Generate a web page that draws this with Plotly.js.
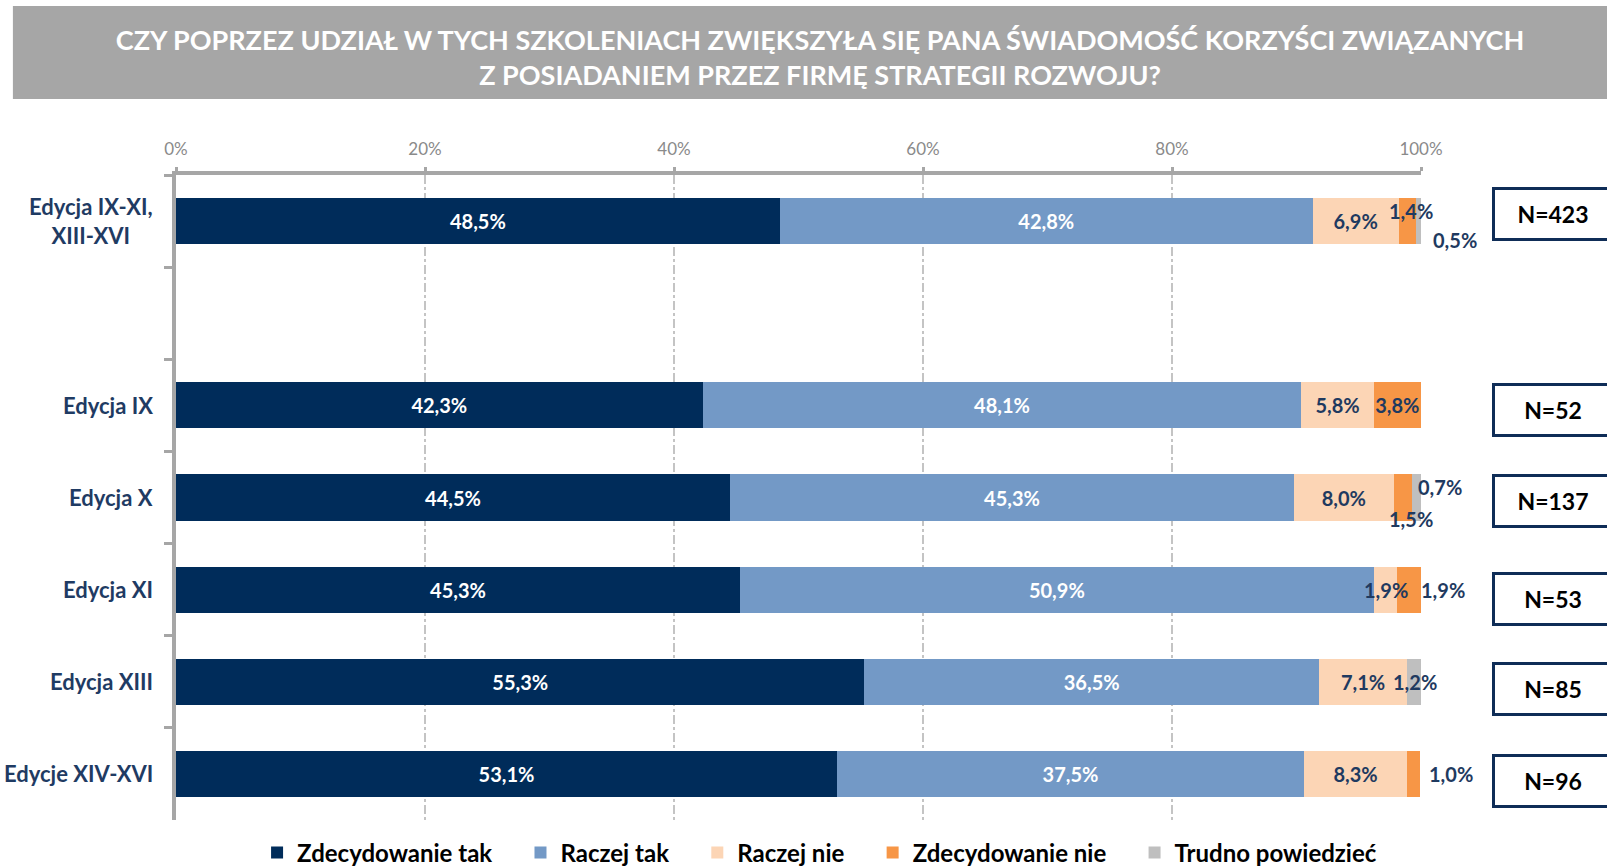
<!DOCTYPE html>
<html>
<head>
<meta charset="utf-8">
<script src="https://cdn.plot.ly/plotly-3.0.1.min.js"></script>
<style>html,body{margin:0;padding:0;background:#fff;}#chart{width:1607px;height:866px;}</style>
</head>
<body>
<div id="chart"></div>
<script>
// ---- data ----
const categories = ["Edycja IX-XI,<br>XIII-XVI", " ", "Edycja IX", "Edycja X", "Edycja XI", "Edycja XIII", "Edycje XIV-XVI"];
const seriesNames = ["Zdecydowanie tak", "Raczej tak", "Raczej nie", "Zdecydowanie nie", "Trudno powiedzieć"];
const zdecydowanieTak = [48.5, null, 42.3, 44.5, 45.3, 55.3, 53.1];
const raczejTak       = [42.8, null, 48.1, 45.3, 50.9, 36.5, 37.5];
const raczejNie       = [6.9,  null, 5.8,  8.0,  1.9,  7.1,  8.3];
const zdecydowanieNie = [1.4,  null, 3.8,  1.5,  1.9,  null, 1.0];
const trudno          = [0.5,  null, null, 0.7,  null, 1.2,  null];
const sampleSizes     = ["N=423", "", "N=52", "N=137", "N=53", "N=85", "N=96"];
const xTickVals  = [0, 20, 40, 60, 80, 100];
const xTickText  = ["0%", "20%", "40%", "60%", "80%", "100%"];

// ---- styling ----
const colors = ["#002C5A", "#7399C6", "#FCD5B5", "#F79646", "#BFBFBF"];
const textColors = ["#FFFFFF", "#FFFFFF", "#1F3A60", "#1F3A60", "#1F3A60"];
// labels drawn as overlays: [seriesIndex, rowIndex, xshift px, yshift px]
const overlayLabels = [[3,0,4,10],[4,0,36,-19],[4,3,23,11],[3,3,8,-21],[2,4,0,0],[3,4,34,0],[4,5,0,0],[3,6,37,0]];
const boxShift = [7, 0, -5, -3, -9, -7, -7];
const FONT = "Lato, 'Open Sans', sans-serif";
const legendPad = '\u00a0\u00a0\u00a0\u00a0';

const series = [zdecydowanieTak, raczejTak, raczejNie, zdecydowanieNie, trudno];
const fmt = v => v.toFixed(1).replace('.', ',') + '%';
const isOverlay = (s, r) => overlayLabels.some(o => o[0] === s && o[1] === r);

const traces = series.map((vals, s) => ({
  type: 'bar',
  orientation: 'h',
  name: seriesNames[s] + (s < series.length - 1 ? legendPad : ''),
  y: categories,
  x: vals,
  text: vals.map((v, r) => (v == null || isOverlay(s, r)) ? '' : fmt(v)),
  texttemplate: '%{text}',
  textposition: 'inside',
  insidetextanchor: 'middle',
  constraintext: 'none',
  textangle: 0,
  cliponaxis: false,
  textfont: {family: FONT, size: 20, color: textColors[s], weight: 'bold'},
  marker: {color: colors[s], line: {width: 0}},
  hoverinfo: 'skip'
}));

const annotations = [];
overlayLabels.forEach(([s, r, dx, dy]) => {
  let start = 0;
  for (let k = 0; k < s; k++) start += series[k][r] || 0;
  const v = series[s][r];
  annotations.push({
    x: start + v / 2, y: categories[r], xref: 'x', yref: 'y',
    text: fmt(v), showarrow: false, xshift: dx, yshift: dy,
    font: {family: FONT, size: 20, color: '#1F3A60', weight: 'bold'}
  });
});
categories.forEach((c, r) => {
  if (!c.trim()) return;
  annotations.push({
    x: 0, xref: 'paper', y: c, yref: 'y', xanchor: 'right', xshift: -21,
    text: c, align: 'center', showarrow: false,
    font: {family: FONT, size: 22, color: '#1F3B63', weight: 'bold'}
  });
});
sampleSizes.forEach((n, r) => {
  if (!n) return;
  annotations.push({
    x: 1.057, xref: 'paper', xanchor: 'left', y: categories[r], yref: 'y',
    yshift: boxShift[r], text: n, showarrow: false, align: 'center',
    width: 112, height: 44, borderpad: 2, borderwidth: 3,
    bordercolor: '#0F2D57', bgcolor: '#FFFFFF',
    font: {family: FONT, size: 23, color: '#000000', weight: 'bold'}
  });
});

const layout = {
  width: 1607, height: 866,
  paper_bgcolor: '#FFFFFF', plot_bgcolor: '#FFFFFF',
  margin: {l: 176, r: 186, t: 175, b: 46, autoexpand: false},
  barmode: 'stack', bargap: 0.5,
  showlegend: true,
  title: {
    text: 'CZY POPRZEZ UDZIAŁ W TYCH SZKOLENIACH ZWIĘKSZYŁA SIĘ PANA ŚWIADOMOŚĆ KORZYŚCI ZWIĄZANYCH<br>Z POSIADANIEM PRZEZ FIRMĘ STRATEGII ROZWOJU?',
    x: 0.5103, xanchor: 'center', y: 0.942, yanchor: 'middle', xref: 'container', yref: 'container',
    font: {family: FONT, size: 27, color: '#FFFFFF', weight: 'bold'}
  },
  shapes: [{
    type: 'rect', xref: 'paper', yref: 'paper', layer: 'below',
    x0: -0.131, x1: 1.2, y0: 1.118, y1: 1.262,
    fillcolor: '#A6A6A6', line: {width: 0}
  }],
  xaxis: {
    side: 'top', range: [0, 100], tickmode: 'array', tickvals: xTickVals, ticktext: xTickText,
    showline: true, linecolor: '#A6A6A6', linewidth: 4,
    ticks: 'outside', ticklen: 4, tickwidth: 3, tickcolor: '#A6A6A6', ticklabelstandoff: 5,
    showgrid: true, gridcolor: '#C4C4C4', gridwidth: 2, griddash: 'dashdot',
    zeroline: false, fixedrange: true,
    tickfont: {family: FONT, size: 17, color: '#8A8A8A'}
  },
  yaxis: {
    type: 'category', categoryorder: 'array', categoryarray: categories, autorange: 'reversed',
    showline: true, linecolor: '#A6A6A6', linewidth: 4,
    ticks: 'outside', tickson: 'boundaries', ticklen: 8, tickwidth: 3, tickcolor: '#A6A6A6',
    showticklabels: false, showgrid: false, zeroline: false, fixedrange: true
  },
  legend: {
    orientation: 'h', x: 0.51, xref: 'container', xanchor: 'center', y: 0.015, yref: 'container', yanchor: 'middle',
    traceorder: 'normal', itemwidth: 30,
    font: {family: FONT, size: 24, color: '#000000', weight: 'bold'}
  },
  annotations: annotations
};

Plotly.newPlot('chart', traces, layout, {displayModeBar: false, staticPlot: true});
</script>
</body>
</html>
